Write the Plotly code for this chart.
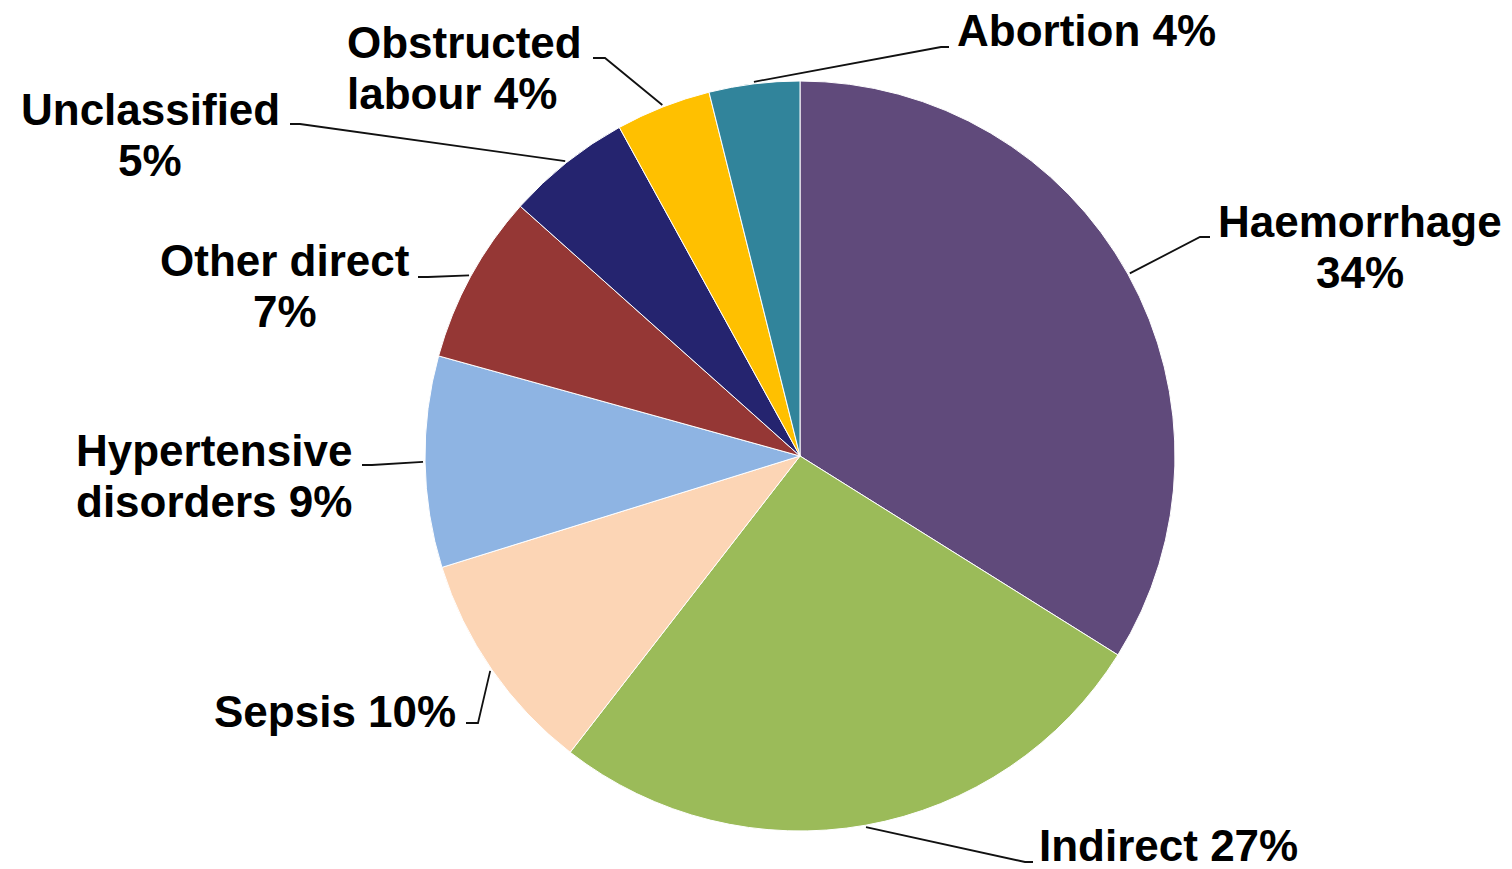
import math
import plotly.graph_objects as go

# ---- data ----
categories = ["Haemorrhage", "Indirect", "Sepsis", "Hypertensive disorders",
              "Other direct", "Unclassified", "Obstructed labour", "Abortion"]
values = [33.9, 26.6, 9.7, 9.1, 7.3, 5.4, 4.1, 3.9]
colors = ["#604A7B", "#9BBB59", "#FCD5B5", "#8EB4E3",
          "#953735", "#25246F", "#FFC000", "#31849B"]

# ---- layout (pixel geometry) ----
W, H = 1512, 869
CX, CY, R = 800, 456, 375
FONT = 44

# label lines and placement per category (text lines, anchor x, xanchor, first-line baseline y)
label_lines = [
    ["Haemorrhage", "{p}%"],
    ["Indirect {p}%"],
    ["Sepsis {p}%"],
    ["Hypertensive", "disorders {p}%"],
    ["Other direct", "{p}%"],
    ["Unclassified", "{p}%"],
    ["Obstructed", "labour {p}%"],
    ["Abortion {p}%"],
]
label_pos = [
    (1360, "center", 237),
    (1037, "left", 861),
    (458, "right", 727),
    (214, "center", 466),
    (285, "center", 276),
    (150, "center", 125),
    (345, "left", 58),
    (955, "left", 46),
]
# leader elbow point and end point (pixels)
leader_pts = [
    ((1200, 237), (1210, 237)),
    ((1025, 862), (1033, 862)),
    ((478, 723), (466, 723)),
    ((372, 465), (362, 465)),
    ((428, 277), (418, 277)),
    ((300, 124), (290, 124)),
    ((605, 58), (593, 58)),
    ((941, 47), (949, 47)),
]
LINE_GAP = 51


def px(x):
    return x / W


def py(y):
    return 1 - y / H


fig = go.Figure()
fig.add_trace(go.Pie(
    labels=categories, values=values, sort=False, direction="clockwise",
    rotation=0, marker=dict(colors=colors, line=dict(color="white", width=1)),
    textinfo="none", hoverinfo="label+percent", showlegend=False,
    domain=dict(x=[px(CX - R), px(CX + R)], y=[py(CY + R), py(CY - R)]),
))

total = sum(values)
cum = 0.0
shapes = []
annotations = []
for i, v in enumerate(values):
    mid = (cum + v / 2) / total
    cum += v
    ang = 2 * math.pi * mid
    ex = CX + (R + 2) * math.sin(ang)
    ey = CY - (R + 2) * math.cos(ang)
    (bx, by), (tx, ty) = leader_pts[i]
    path = f"M {px(ex)},{py(ey)} L {px(bx)},{py(by)} L {px(tx)},{py(ty)}"
    shapes.append(dict(type="path", path=path, xref="paper", yref="paper",
                       line=dict(color="#111111", width=1.8)))
    pct = round(v / total * 100)
    x0, xa, base = label_pos[i]
    for j, ln in enumerate(label_lines[i]):
        b = base + j * LINE_GAP
        annotations.append(dict(
            text=ln.format(p=pct), x=px(x0), y=py(b - 0.35 * FONT),
            xref="paper", yref="paper", xanchor=xa, yanchor="middle",
            showarrow=False,
            font=dict(family="Liberation Sans, Arial, sans-serif", size=FONT,
                      color="black", weight="bold"),
        ))

fig.update_layout(
    width=W, height=H, margin=dict(l=0, r=0, t=0, b=0),
    paper_bgcolor="white", plot_bgcolor="white",
    shapes=shapes, annotations=annotations,
)
fig.write_html("out.html", config={"displayModeBar": False},
               post_script="document.body.style.margin='0';document.body.style.overflow='hidden';")
